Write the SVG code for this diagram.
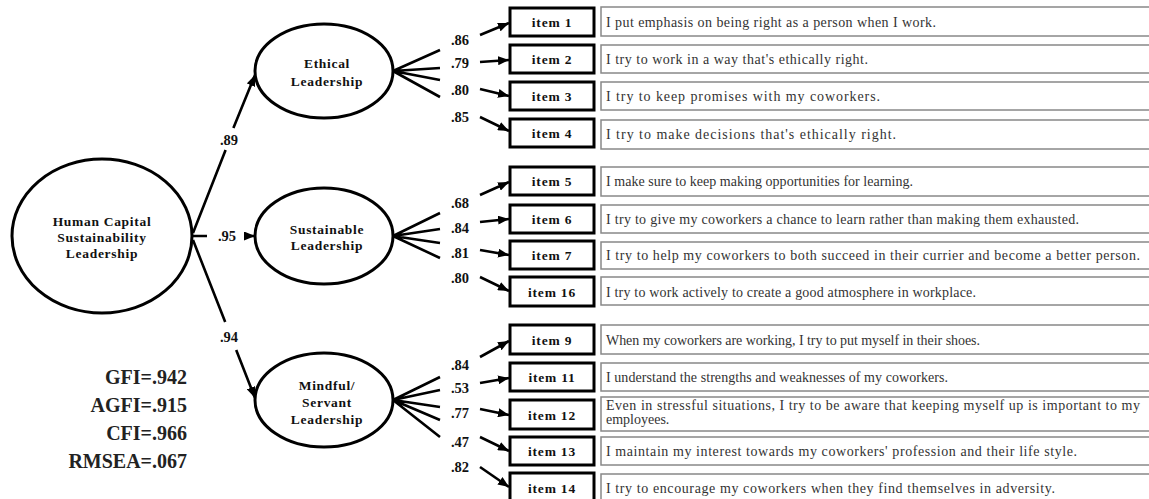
<svg xmlns="http://www.w3.org/2000/svg" width="1149" height="499" viewBox="0 0 1149 499">
<style>
.lat{fill:#fff;stroke:#000;stroke-width:3}
.lt{font-family:"Liberation Serif","Times New Roman",serif;font-weight:bold;font-size:13.5px;letter-spacing:0.7px;text-anchor:middle;fill:#111}
.ib{fill:#fff;stroke:#000;stroke-width:3}
.it{font-family:"Liberation Serif","Times New Roman",serif;font-weight:bold;font-size:13.5px;letter-spacing:0.8px;text-anchor:middle;fill:#111}
.tb{fill:#fff;stroke:#888;stroke-width:1.5}
.tt{font-family:"Liberation Serif","Times New Roman",serif;font-size:14px;fill:#333}
.ld{font-family:"Liberation Serif","Times New Roman",serif;font-weight:bold;font-size:14.5px;text-anchor:middle;fill:#111}
.fit{font-family:"Liberation Serif","Times New Roman",serif;font-weight:bold;font-size:20px;text-anchor:end;fill:#222}
.ar{fill:none;stroke:#000;stroke-width:2.6;marker-end:url(#ah)}
.fan{fill:none;stroke:#000;stroke-width:2.6}
</style>
<defs>
<marker id="ah" markerUnits="userSpaceOnUse" markerWidth="12" markerHeight="9" refX="11" refY="4.5" orient="auto">
<path d="M0,0 L11,4.5 L0,9 z" fill="#000"/>
</marker>
</defs>
<rect width="1149" height="499" fill="#fff"/>

<g id="connectors">
<path class="ar" d="M193,233 L225.6,150 M233.4,128 L255,75"/>
<path class="ar" d="M193,236 L207,236 M246,236 L255,236"/>
<path class="ar" d="M193,240 L225.2,322 M236.2,350 L255,398"/>
<path class="fan" d="M393,71 L440,50 M393,71 L440,68 M393,71 L440,80 M393,71 L440,97"/>
<path class="fan" d="M393,236 L440,213 M393,236 L440,229 M393,236 L440,243 M393,236 L440,258"/>
<path class="fan" d="M393,400 L440,377 M393,400 L440,390 M393,400 L440,407 M393,400 L440,420 M393,400 L440,437"/>
<path class="ar" d="M480,35 L509,23"/>
<path class="ar" d="M480,62 L509,60"/>
<path class="ar" d="M480,89 L509,96"/>
<path class="ar" d="M480,117 L509,131"/>
<path class="ar" d="M480,195 L509,182"/>
<path class="ar" d="M480,222 L509,219"/>
<path class="ar" d="M480,250 L509,255"/>
<path class="ar" d="M480,277 L509,291"/>
<path class="ar" d="M480,357 L509,341"/>
<path class="ar" d="M480,383 L509,378"/>
<path class="ar" d="M480,409 L509,415"/>
<path class="ar" d="M480,437 L509,451"/>
<path class="ar" d="M480,467 L509,487"/>
<g class="ld">
<text x="229" y="145">.89</text>
<text x="227" y="241">.95</text>
<text x="229" y="342">.94</text>
<text x="460" y="45">.86</text>
<text x="460" y="68">.79</text>
<text x="460" y="95">.80</text>
<text x="460" y="122">.85</text>
<text x="460" y="208">.68</text>
<text x="460" y="233">.84</text>
<text x="460" y="258">.81</text>
<text x="460" y="283">.80</text>
<text x="460" y="370">.84</text>
<text x="460" y="393">.53</text>
<text x="460" y="418">.77</text>
<text x="460" y="447">.47</text>
<text x="460" y="472">.82</text>
</g>
</g>

<g id="hcsl">
<ellipse class="lat" cx="102" cy="236" rx="90" ry="77"/>
<text class="lt"><tspan x="102" y="226">Human Capital</tspan><tspan x="102" y="242">Sustainability</tspan><tspan x="102" y="258">Leadership</tspan></text>
</g>
<g id="ethical">
<ellipse class="lat" cx="324" cy="71" rx="69" ry="47"/>
<text class="lt"><tspan x="327" y="68">Ethical</tspan><tspan x="327" y="86">Leadership</tspan></text>
</g>
<g id="sustainable">
<ellipse class="lat" cx="324" cy="236" rx="69" ry="48"/>
<text class="lt"><tspan x="327" y="234">Sustainable</tspan><tspan x="327" y="250">Leadership</tspan></text>
</g>
<g id="mindful">
<ellipse class="lat" cx="324" cy="400" rx="69" ry="47"/>
<text class="lt"><tspan x="327" y="390">Mindful/</tspan><tspan x="327" y="407">Servant</tspan><tspan x="327" y="424">Leadership</tspan></text>
</g>

<g id="fit">
<text class="fit" x="187" y="384">GFI=.942</text>
<text class="fit" x="187" y="412">AGFI=.915</text>
<text class="fit" x="187" y="440">CFI=.966</text>
<text class="fit" x="187" y="468">RMSEA=.067</text>
</g>

<g id="item1"><rect class="ib" x="510" y="8" width="84" height="28"/><text class="it" x="552" y="27">item 1</text><rect class="tb" x="601" y="7" width="600" height="29"/><text class="tt" x="606" y="27" textLength="330" lengthAdjust="spacing">I put emphasis on being right as a person when I work.</text></g>
<g id="item2"><rect class="ib" x="510" y="45" width="84" height="28"/><text class="it" x="552" y="64">item 2</text><rect class="tb" x="601" y="45" width="600" height="28"/><text class="tt" x="606" y="64" textLength="262" lengthAdjust="spacing">I try to work in a way that's ethically right.</text></g>
<g id="item3"><rect class="ib" x="510" y="82" width="84" height="28"/><text class="it" x="552" y="101">item 3</text><rect class="tb" x="601" y="82" width="600" height="28"/><text class="tt" x="606" y="101" textLength="274" lengthAdjust="spacing">I try to keep promises with my coworkers.</text></g>
<g id="item4"><rect class="ib" x="510" y="119" width="84" height="28"/><text class="it" x="552" y="138">item 4</text><rect class="tb" x="601" y="120" width="600" height="29"/><text class="tt" x="606" y="139" textLength="290" lengthAdjust="spacing">I try to make decisions that's ethically right.</text></g>
<g id="item5"><rect class="ib" x="510" y="167" width="84" height="28"/><text class="it" x="552" y="186">item 5</text><rect class="tb" x="601" y="167" width="600" height="29"/><text class="tt" x="606" y="186" textLength="307" lengthAdjust="spacing">I make sure to keep making opportunities for learning.</text></g>
<g id="item6"><rect class="ib" x="510" y="205" width="84" height="28"/><text class="it" x="552" y="224">item 6</text><rect class="tb" x="601" y="205" width="600" height="28"/><text class="tt" x="606" y="224" textLength="473" lengthAdjust="spacing">I try to give my coworkers a chance to learn rather than making them exhausted.</text></g>
<g id="item7"><rect class="ib" x="510" y="241" width="84" height="28"/><text class="it" x="552" y="260">item 7</text><rect class="tb" x="601" y="242" width="600" height="27"/><text class="tt" x="606" y="260" textLength="534" lengthAdjust="spacing">I try to help my coworkers to both succeed in their currier and become a better person.</text></g>
<g id="item16"><rect class="ib" x="510" y="277" width="84" height="29"/><text class="it" x="552" y="297">item 16</text><rect class="tb" x="601" y="277" width="600" height="28"/><text class="tt" x="606" y="297" textLength="370" lengthAdjust="spacing">I try to work actively to create a good atmosphere in workplace.</text></g>
<g id="item9"><rect class="ib" x="510" y="325" width="84" height="29"/><text class="it" x="552" y="345">item 9</text><rect class="tb" x="601" y="325" width="600" height="29"/><text class="tt" x="606" y="345" textLength="374" lengthAdjust="spacing">When my coworkers are working, I try to put myself in their shoes.</text></g>
<g id="item11"><rect class="ib" x="510" y="363" width="84" height="28"/><text class="it" x="552" y="382">item 11</text><rect class="tb" x="601" y="363" width="600" height="28"/><text class="tt" x="606" y="382" textLength="342" lengthAdjust="spacing">I understand the strengths and weaknesses of my coworkers.</text></g>
<g id="item12"><rect class="ib" x="510" y="400" width="84" height="29"/><text class="it" x="552" y="420">item 12</text><rect class="tb" x="601" y="397" width="600" height="34"/><text class="tt"><tspan x="606" y="410" textLength="534" lengthAdjust="spacing">Even in stressful situations, I try to be aware that keeping myself up is important to my</tspan><tspan x="606" y="424">employees.</tspan></text></g>
<g id="item13"><rect class="ib" x="510" y="437" width="84" height="28"/><text class="it" x="552" y="456">item 13</text><rect class="tb" x="601" y="437" width="600" height="28"/><text class="tt" x="606" y="456" textLength="471" lengthAdjust="spacing">I maintain my interest towards my coworkers' profession and their life style.</text></g>
<g id="item14"><rect class="ib" x="510" y="473" width="84" height="29"/><text class="it" x="552" y="493">item 14</text><rect class="tb" x="601" y="474" width="600" height="28"/><text class="tt" x="606" y="493" textLength="449" lengthAdjust="spacing">I try to encourage my coworkers when they find themselves in adversity.</text></g>
</svg>
